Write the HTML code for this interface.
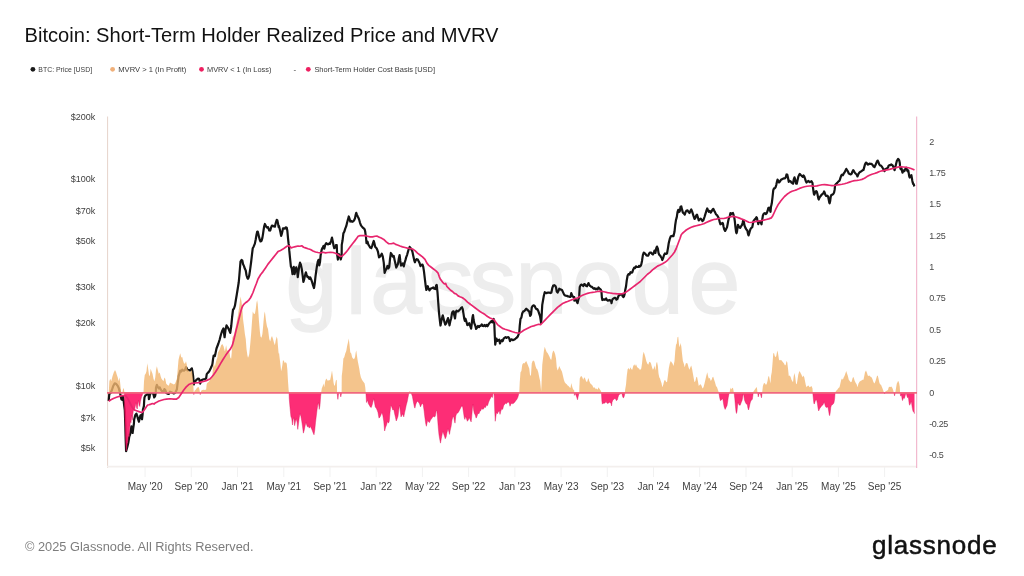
<!DOCTYPE html>
<html lang="en"><head><meta charset="utf-8"><title>Bitcoin: Short-Term Holder Realized Price and MVRV</title>
<style>html,body{margin:0;padding:0;background:#fff;overflow:hidden}svg{display:block}</style></head>
<body>
<svg width="1024" height="576" viewBox="0 0 1024 576">
<rect width="1024" height="576" fill="#fff"/>
<text x="285.5 345.8 370.2 427.5 469.5 515.5 572 631.8 688.5" y="312.5" font-family="'Liberation Sans',sans-serif" font-size="93" fill="#ededed" stroke="#ededed" stroke-width="1.4">glassnode</text>
<line x1="107.6" y1="116.5" x2="107.6" y2="468" stroke="#e6d3ca" stroke-width="1"/>
<line x1="107" y1="466.6" x2="917" y2="466.6" stroke="#f3efed" stroke-width="1.6"/>
<line x1="916.7" y1="116.5" x2="916.7" y2="468" stroke="#efaac4" stroke-width="1"/>
<line x1="145.1" y1="467" x2="145.1" y2="477" stroke="#f1f1f1" stroke-width="1"/>
<line x1="191.3" y1="467" x2="191.3" y2="477" stroke="#f1f1f1" stroke-width="1"/>
<line x1="237.5" y1="467" x2="237.5" y2="477" stroke="#f1f1f1" stroke-width="1"/>
<line x1="283.8" y1="467" x2="283.8" y2="477" stroke="#f1f1f1" stroke-width="1"/>
<line x1="330.0" y1="467" x2="330.0" y2="477" stroke="#f1f1f1" stroke-width="1"/>
<line x1="376.2" y1="467" x2="376.2" y2="477" stroke="#f1f1f1" stroke-width="1"/>
<line x1="422.4" y1="467" x2="422.4" y2="477" stroke="#f1f1f1" stroke-width="1"/>
<line x1="468.6" y1="467" x2="468.6" y2="477" stroke="#f1f1f1" stroke-width="1"/>
<line x1="514.9" y1="467" x2="514.9" y2="477" stroke="#f1f1f1" stroke-width="1"/>
<line x1="561.1" y1="467" x2="561.1" y2="477" stroke="#f1f1f1" stroke-width="1"/>
<line x1="607.3" y1="467" x2="607.3" y2="477" stroke="#f1f1f1" stroke-width="1"/>
<line x1="653.5" y1="467" x2="653.5" y2="477" stroke="#f1f1f1" stroke-width="1"/>
<line x1="699.7" y1="467" x2="699.7" y2="477" stroke="#f1f1f1" stroke-width="1"/>
<line x1="746.0" y1="467" x2="746.0" y2="477" stroke="#f1f1f1" stroke-width="1"/>
<line x1="792.2" y1="467" x2="792.2" y2="477" stroke="#f1f1f1" stroke-width="1"/>
<line x1="838.4" y1="467" x2="838.4" y2="477" stroke="#f1f1f1" stroke-width="1"/>
<line x1="884.6" y1="467" x2="884.6" y2="477" stroke="#f1f1f1" stroke-width="1"/>
<g font-family="'Liberation Sans',sans-serif" font-size="10" fill="#404040" text-anchor="middle">
<text x="145.1" y="489.6">May '20</text>
<text x="191.3" y="489.6">Sep '20</text>
<text x="237.5" y="489.6">Jan '21</text>
<text x="283.8" y="489.6">May '21</text>
<text x="330.0" y="489.6">Sep '21</text>
<text x="376.2" y="489.6">Jan '22</text>
<text x="422.4" y="489.6">May '22</text>
<text x="468.6" y="489.6">Sep '22</text>
<text x="514.9" y="489.6">Jan '23</text>
<text x="561.1" y="489.6">May '23</text>
<text x="607.3" y="489.6">Sep '23</text>
<text x="653.5" y="489.6">Jan '24</text>
<text x="699.7" y="489.6">May '24</text>
<text x="746.0" y="489.6">Sep '24</text>
<text x="792.2" y="489.6">Jan '25</text>
<text x="838.4" y="489.6">May '25</text>
<text x="884.6" y="489.6">Sep '25</text>
</g>
<g font-family="'Liberation Sans',sans-serif" font-size="9" fill="#404040" text-anchor="end">
<text x="95.3" y="119.5">$200k</text>
<text x="95.3" y="181.8">$100k</text>
<text x="95.3" y="213.8">$70k</text>
<text x="95.3" y="244.0">$50k</text>
<text x="95.3" y="289.9">$30k</text>
<text x="95.3" y="326.3">$20k</text>
<text x="95.3" y="388.6">$10k</text>
<text x="95.3" y="420.6">$7k</text>
<text x="95.3" y="450.8">$5k</text>
</g>
<g font-family="'Liberation Sans',sans-serif" font-size="9" fill="#484848" letter-spacing="-0.35">
<text x="929.2" y="144.6">2</text>
<text x="929.2" y="176.0">1.75</text>
<text x="929.2" y="207.3">1.5</text>
<text x="929.2" y="238.7">1.25</text>
<text x="929.2" y="270.1">1</text>
<text x="929.2" y="301.4">0.75</text>
<text x="929.2" y="332.8">0.5</text>
<text x="929.2" y="364.1">0.25</text>
<text x="929.2" y="395.5">0</text>
<text x="929.2" y="426.9">-0.25</text>
<text x="929.2" y="458.2">-0.5</text>
</g>
<clipPath id="up"><rect x="107" y="100" width="810" height="292.75"/></clipPath>
<clipPath id="dn"><rect x="107" y="392.75" width="810" height="100"/></clipPath>
<path d="M108.75,401.086 L108.8,399.4 L109.3,393.8 L110.6,393 L111.9,390 L113.1,386.3 L114.75,383.3 L116,383.75 L117.5,385.6 L118.75,388.1 L119.75,391.9 L120.4,394.5 L121.4,399.25 L122.3,399.9 L122.9,396.1 L123.6,400.5 L124.2,405.5 L124.8,410 L125.3,425 L125.7,440 L126.1,451.25 L127.3,447 L128.25,443 L129.2,437 L130.1,434.4 L130.75,430.6 L131.4,426.25 L132,428.75 L132.6,433 L133.25,428 L133.9,423.75 L134.2,419.25 L135.4,414.9 L136.4,413.6 L137.3,416.1 L137.9,418.6 L138.9,421.75 L139.5,419.25 L140.4,415.5 L141.4,414.9 L142,419.25 L142.6,414.25 L142.9,409.9 L143.25,408.6 L143.9,406.1 L144.2,400.5 L144.5,397.4 L145.4,395.5 L146.4,394.9 L147.6,393.9 L148.6,394.25 L148.9,399.25 L149.5,397.4 L150.1,393.6 L151.4,393 L153.25,393.6 L154.2,397.4 L155.1,396.1 L155.75,393 L156,387.562 L156.875,384.891 L157.75,386.685 L158.75,388.461 L159.75,387.315 L160.625,389.378 L161.5,390.694 L162.5,391.223 L163.5,391.76 L164.375,389.133 L165.25,389.794 L166.25,392.915 L167.5,393.614 L168.75,393.912 L170,391.694 L171.25,392.258 L172.5,392.825 L173.75,393.394 L175,392.975 L176,391.32 L176.875,389.269 L177.75,382.452 L178.5,376.83 L179.375,373.618 L180.25,370.589 L181.25,371.502 L182.25,369.653 L183.125,370.454 L184,370.643 L185,369.766 L186,367.083 L186.875,368.371 L187.5,370.399 L188.75,370.007 L190,370.555 L191,369.308 L191.875,368.36 L192.5,371.377 L193.125,376.144 L193.75,382.954 L193.8,384.481 L194.125,382.914 L194.5,381.544 L195.5,380.998 L196.75,379.561 L198,378.568 L199,378.857 L199.75,381.292 L200,382.121 L200.25,383.593 L200.625,381.971 L201.125,380.521 L202.375,379.782 L203.625,379.247 L204.875,379.055 L206.125,378.251 L206.75,374.156 L207.75,372.886 L208.625,372.09 L209.5,370.886 L210.5,368.846 L211.5,366.565 L212.375,364.333 L213,359.343 L213.625,355.617 L214.25,355.822 L214.875,356.04 L215.5,353.316 L216.5,348.5 L218.4,343.5 L219.6,339.75 L220.9,334.75 L222.1,331 L223.4,328.5 L224.6,337.25 L225.5,329.75 L226.5,325.4 L227.75,327.25 L229,329.75 L230.25,332.9 L231.25,326 L232.1,317.25 L233,309.75 L234,308.5 L235,305.4 L235.9,299.75 L236.75,294.75 L237.75,288.5 L238.75,282.25 L239.4,275 L240.5,261.594 L241.5,259.989 L242.375,260.629 L243,264.007 L244,266.116 L244.875,268.849 L245.75,270.548 L246.5,275.213 L247.375,278.019 L248,278.775 L248.75,276.961 L249.25,275.416 L250.25,268.625 L251.125,261.99 L252,254.292 L252.75,248.187 L253.625,246.706 L254.875,243.63 L255.75,239.232 L256.5,234.713 L257.125,231.885 L257.75,231.652 L258.375,234.045 L259,236.892 L259.875,240.092 L260.5,241.468 L261.5,240.828 L262.375,237.878 L263,234.093 L263.625,229.698 L264.25,225.98 L264.875,223.962 L265.5,225.237 L266.125,226.542 L267,227.525 L268,227.184 L268.625,228.815 L269.25,230.513 L270.25,230.535 L271.125,227.563 L272,225.55 L273,225.863 L274,226.503 L274.875,226.689 L275.75,223.027 L276.75,219.893 L277.375,220.35 L278,223.404 L278.625,227.116 L279,226.119 L279.875,229.86 L280.5,232.446 L281.125,235.863 L281.75,234.022 L282.375,231.471 L283,228.26 L284,228.233 L284.875,228.665 L285.75,227.317 L286.75,227.743 L287.375,231.043 L288,238.039 L288.625,243.886 L289,245.605 L289.05,245.777 L289.25,250.153 L290,257.86 L290.875,266.276 L291.75,268.546 L292.5,274.122 L293,269.255 L293.75,266.801 L294.625,274.133 L295.5,269.756 L296.25,267.288 L297.125,270.532 L297.75,277.081 L298.5,271.57 L299.25,265.911 L300,262.684 L300.875,264.624 L301.75,268.906 L302.5,274.272 L303.375,281.965 L304.25,279.128 L305,275.643 L305.875,272.35 L306.75,275.026 L307.5,277.107 L308.375,276.777 L309.25,278.891 L310.25,277.339 L311.25,279.716 L312.125,282.131 L313,285.24 L314,288.031 L314.75,283.356 L315.5,276.322 L316.25,270.788 L317,265.591 L317.75,261.682 L318.5,259.849 L319.25,265.474 L320,262.052 L320.625,255.41 L321.125,252.738 L321.75,249.582 L322.75,247.606 L323.5,245.988 L324.25,248.72 L325.25,244.791 L326.25,243.113 L327.125,243.781 L328,244.456 L329,243.541 L330,243.847 L331,241.04 L332,237.654 L332.75,241.215 L333.5,245.428 L334.25,248.166 L335,247.546 L335.875,245.022 L336.75,245.141 L337.125,254.225 L337.875,259.55 L338.625,255.188 L339,254.205 L339.625,255.887 L340.125,256.238 L340.75,259.438 L341.625,256.204 L341.675,251.482 L341.75,244.911 L342.5,240.778 L343.375,233.364 L344.25,231.812 L345.25,228.662 L346.25,226.2 L347.125,222.448 L348,219.407 L348.75,216.462 L349.5,218.593 L350.25,221.539 L351.25,220.918 L352.125,221.85 L353,221.433 L354,220.525 L355,218.212 L355.75,214.477 L356.25,212.81 L357,214.863 L357.75,216.52 L358.5,218.012 L359.25,219.979 L360,222.774 L360.875,225.133 L361.75,226.336 L362.75,227.556 L363.75,228.378 L364.625,229.208 L365.25,231.81 L365.75,235.795 L365.875,235.827 L366.5,243.259 L367.5,241.599 L368.375,244.723 L369.25,245.937 L370.25,247.633 L371.25,248.139 L372.125,246.132 L373,243.074 L373.75,240.978 L374.5,243.649 L375.25,246.95 L376.25,247.833 L377.125,249.401 L378,251.927 L379,257.325 L380,256.69 L380.875,255.462 L381.75,253.752 L382.75,256.422 L383.75,262.556 L384.625,272.956 L385.5,270.294 L386.5,268.786 L387.5,265.981 L388.375,268.384 L389.25,266.906 L390,259.142 L390.875,252.982 L391.75,254.353 L392.75,256.651 L393.75,255.874 L394.625,260.176 L395.5,264.076 L396.25,267.53 L397.125,265.75 L398,263.838 L398.75,258.791 L399.625,255.082 L400.25,260.425 L401,265.55 L401.75,264.718 L402.75,263.421 L403.75,266.39 L404.625,262.802 L405.5,259.879 L406.25,257.032 L407.125,254.795 L408,251.648 L408.75,249.019 L409.25,248.38 L409.625,246.931 L410.5,247.975 L411.25,249.019 L412.375,251.517 L413.25,255.784 L414.25,260.35 L414.875,262.268 L415.75,260.087 L416.75,259.135 L417.75,259.594 L418.625,261.224 L419.5,262.865 L420.5,266.113 L421.5,264.877 L422.5,264.656 L423.25,266.882 L424,271.691 L424.875,279.021 L425.75,286.364 L426.375,289.992 L427,288.135 L427.75,286.162 L428.625,288.982 L429.5,290.292 L430.5,288.735 L431.5,288.358 L432.375,287.901 L433.25,287.458 L434.25,288.79 L435.25,289.038 L436.125,285.435 L436.75,285.032 L437.5,292.297 L438.25,302.794 L439,312.8 L439.875,320.56 L440.5,325.527 L441.25,321.5 L442,318.343 L442.75,315.289 L443.625,318.785 L444.5,322.211 L445.25,324.62 L446.125,323.601 L447,320.843 L448,318.021 L448.75,321.339 L449.5,325.378 L450.25,321.556 L451.125,318.51 L452,313.176 L452.75,311.496 L453.625,311.263 L454.25,315.255 L455,318.506 L455.75,312.475 L456.5,310.717 L457.375,311.08 L458.25,311.359 L459.25,310.226 L460.25,309.109 L461.125,307.933 L462,307.28 L462.75,309.174 L463.5,313.882 L464.25,318.791 L464.875,320.942 L465.5,318.738 L466.5,321.968 L467.375,325.131 L468.25,324.675 L469.25,323.176 L470.25,326.195 L471.125,328.592 L471.75,323.968 L472.375,318.064 L473,315.007 L473.625,320.024 L474.25,323.12 L475.25,325.477 L476.125,328.888 L477,327.868 L478,325.905 L479,327.201 L479.875,325.74 L480.75,325.792 L481.75,324.368 L482.75,326.024 L483.625,326.034 L484.5,325.033 L485.5,326.219 L486.5,324.972 L487.5,326.23 L488.5,324.369 L489.5,323.049 L490.5,322.135 L491.5,321.142 L492.375,322.418 L493,319.982 L493.625,318.968 L494.25,322.463 L494.75,334.948 L495.25,344.644 L495.875,341.099 L496.5,338.676 L497.375,340.896 L498.25,340.032 L499.25,339.742 L500,343.5 L500.75,341.405 L501.75,340.089 L502.625,341.216 L503.625,338.512 L504.5,337.817 L505.5,337.156 L506.5,337.945 L507.375,337.232 L508.375,337.1 L509.25,338.386 L510,341.13 L510.75,339.892 L511.75,339.251 L512.75,340.07 L513.75,339.881 L514.875,339.248 L515.75,338.475 L516.75,337.725 L517.75,336.481 L518.5,334.679 L519,333.079 L519.25,333.092 L519.75,325.689 L520.5,318.907 L521.375,317.643 L522.25,313.259 L523.25,311.428 L524.25,311.17 L525.25,309.947 L526.25,308.73 L527.25,309.67 L528.25,310.634 L529.25,311.622 L530.125,315.802 L531,314.579 L531.75,307.55 L532.625,305.9 L533.5,305.334 L534.5,305.718 L535.5,307.904 L536.375,309.085 L537.25,309.198 L538.25,310.801 L539.25,313.878 L540.125,316.466 L540.75,320.599 L541.125,323.021 L541.5,318.169 L541.875,311.312 L542.25,304.893 L543,300.533 L543.875,295.482 L544.75,292.234 L545.75,292.84 L546.75,293.144 L547.625,292.573 L548.5,292.687 L549.5,292.684 L550.5,293.065 L551.375,292.544 L552.25,288.193 L553.25,285.504 L554.25,285.176 L555.125,285.66 L556,287.213 L556.75,291.525 L557.625,292.559 L558.5,290.762 L559.25,288.704 L560.125,289.153 L561,289.615 L562,289.997 L563,292.1 L563.875,294.081 L564.75,295.298 L565.75,295.738 L566.75,295.796 L567.625,296.317 L568.5,296.391 L569.5,296.845 L570.5,296.875 L571.25,293.192 L572,294.991 L572.75,296.417 L573.5,297.017 L574.25,297.185 L574.3,298.852 L574.35,300.734 L574.875,299.184 L575.812,299.849 L576.75,301.462 L577.5,303.159 L578.125,300.444 L578.75,298.24 L579.25,296.95 L579.3,293.927 L579.75,286.983 L580.5,285.386 L581.375,284.552 L582.25,284.908 L583.25,286.091 L584.25,284.083 L585.125,284.541 L586,285.866 L587,286.348 L587.75,284.476 L588.5,283.072 L589.25,284.901 L590.125,285.925 L591,286.636 L592,286.916 L593,288.037 L593.875,288.755 L594.75,288.185 L595.75,289.291 L596.75,288.657 L597.625,289.357 L598.5,287.485 L599.25,288.227 L600.125,288.997 L601,290.015 L601.438,291.33 L601.875,297.512 L602.375,300.02 L603,299.649 L603.938,299.349 L604.875,299.78 L605.5,299.195 L606.125,298.382 L606.75,299.981 L607.688,300.679 L608.625,300.341 L609.562,300.005 L610.5,300.641 L611.125,301.229 L611.562,303.179 L612.062,300.405 L612.688,299.049 L613.312,298.624 L613.938,298.201 L614.875,297.806 L615.812,298.383 L616.438,299.645 L617.375,299.044 L618,297.182 L618.625,295.8 L619.562,294.89 L620.5,294.604 L621.438,294.041 L622.062,294.643 L622.688,296.355 L623.312,297.071 L623.938,296.393 L624.562,294.343 L624.875,292.793 L625.125,290.544 L626,286.536 L626.75,280.335 L627.625,275.505 L628.5,274.108 L629.5,274.495 L630.5,272.255 L631.375,272.73 L632.25,272.46 L633.25,269.464 L634.25,267.604 L635.125,268.039 L636,266.274 L637,266.984 L638,266.978 L639,266.612 L639.05,265.828 L639.1,266.538 L639.125,266.895 L640.375,266.25 L641.25,264.622 L642,260.92 L642.875,255.102 L643.75,252.526 L644.5,253.135 L645.375,253.987 L646.25,255.23 L647.25,255.67 L648.25,255.594 L649.125,253.495 L650,252.488 L651,252.57 L652,253.775 L652.875,254.49 L653.75,253.072 L654.5,250.646 L655.375,252.969 L656.25,248.22 L657,246.568 L657.875,248.569 L658.5,252.834 L659.25,254.863 L660,255.333 L660.75,256.596 L661.625,257.828 L662.25,260.065 L663.25,257.796 L664.125,254.781 L665,253.441 L666,253.866 L667,253.478 L667.875,248.62 L668.75,243.022 L669.75,238.95 L670.75,236.405 L671.625,236.16 L672.5,235.92 L673.5,236.068 L674.5,231.777 L675.25,224.717 L676,219.899 L676.75,217.396 L677.5,212.211 L678.25,209.885 L679,212.024 L679.75,211.355 L680.5,206.927 L681.25,206.292 L682,209.393 L682.875,212.654 L683.75,213.335 L684.75,214.672 L685.75,211.603 L686.625,210.583 L687.5,210.42 L688.5,212.025 L689.5,213 L690.375,211.062 L691.25,209.516 L692,211.117 L692.875,213.872 L693.75,216.733 L694.5,218.983 L695.375,217.933 L696.25,215.283 L697,214.691 L697.875,217.283 L698.75,220.391 L699.75,219.306 L700.75,218.646 L701.625,219.679 L702.5,221.132 L703.5,219.97 L704.5,216.983 L705.375,214.078 L706.25,211.24 L707.25,208.461 L708,210.47 L708.75,211.733 L709.75,210.932 L710.75,212.556 L711.625,211.406 L712.5,209.483 L713.25,208.816 L714.125,210.581 L715,212.078 L716,214.431 L717,215.065 L717.875,216.587 L718.875,218.5 L719.812,222.435 L720.438,224.325 L721.375,223.849 L722.312,222.903 L722.938,223.375 L723.562,226.745 L724.188,229.128 L725.125,230.944 L726.062,229.184 L727,227.36 L727.625,224.19 L728.25,220.648 L728.875,218.151 L729.5,216.88 L729.812,215.762 L730.438,213.047 L731.062,214.245 L732,213.287 L732.938,212.997 L733.562,214.906 L733.875,216.43 L734.188,216.999 L734.812,221.058 L735.438,227.035 L736.062,231.817 L736.5,233.282 L737,231.605 L737.5,227.68 L737.938,224.877 L738.562,226.078 L739.188,227.307 L740.125,227.931 L740.75,226.945 L741.375,225.728 L742,224.98 L742.625,222.836 L743.25,220.074 L743.875,221.896 L744.5,225.474 L745.438,227.863 L746.375,229.554 L747.312,230.269 L747.938,233.591 L748.562,235.447 L749.188,233.533 L749.812,231.094 L750.438,229.204 L751.375,227.819 L752.312,227.12 L752.938,223.721 L753.25,222.02 L753.562,220.877 L754.5,219.802 L755.438,218.742 L756.375,217.268 L757,218.027 L757.5,221.2 L757.75,221.429 L758.25,224.084 L758.875,222.151 L759.5,221.374 L760.438,221.449 L761.062,223.172 L761.5,224.251 L761.875,221.646 L762.125,220.425 L762.5,217.965 L762.875,215.566 L763.75,213.708 L764.75,213.052 L765.75,214.066 L766.625,213.436 L767.5,211.156 L768.25,208.156 L769,207.54 L769.75,209.641 L770.5,211.808 L771,206.74 L771.75,203.592 L772.5,197.296 L773.25,190.264 L774,188.291 L774.75,188.35 L775.5,187.345 L776.25,185.05 L777,181.597 L777.5,179.654 L778.25,180.827 L779,182.419 L780,181.402 L781,179.708 L782,179.176 L783,178.684 L784,178.249 L785,178.326 L785.75,177.299 L786.5,174.47 L787.25,174.577 L788,177.742 L788.75,181.85 L789.75,180.811 L790.75,181.458 L791.5,182.661 L792.25,183.131 L793,183.728 L793.75,179.465 L794.5,177.287 L795.25,179.763 L796,183.568 L796.75,183.716 L797.5,180.501 L798.25,176.954 L799,175.041 L799.75,173.945 L800.5,174.827 L801.25,175.333 L802,176.24 L802.75,176.808 L803.5,175.396 L804.25,176.358 L805,178.606 L805.75,180.946 L806.5,182.495 L807.5,181.491 L808.5,180.967 L809.5,182.145 L810.5,181.677 L811.5,181.211 L812.5,182.977 L812.75,186.005 L813.375,190.496 L813.875,193.919 L814.312,194.715 L814.938,192.974 L815.562,191.45 L816.188,191.125 L816.812,191.751 L817.438,194.032 L818.062,197.371 L818.688,199.534 L819.312,198.072 L819.938,196.91 L820.875,195.708 L821.812,194.517 L822.75,193.937 L823.5,192.905 L824.125,191.408 L824.75,192.875 L825.375,194.935 L826.188,196.041 L827.125,195.65 L828.062,196.288 L828.688,199.472 L829.312,202.766 L829.625,203.356 L830.125,201.262 L830.75,196.664 L831.5,194.762 L832.438,194.567 L833.375,193.79 L834,192.789 L834.625,189.878 L835.062,185.387 L835.112,185.377 L836,183.955 L837.25,182.837 L838.5,181.335 L839.5,180.745 L840.375,178.086 L841.25,175.496 L842,174.583 L842.875,175.216 L843.75,173.433 L844.5,172.49 L845.375,170.662 L846.25,168.86 L847,170.174 L847.875,171.425 L848.75,173.511 L849.75,173.971 L850.75,174.453 L851.625,173.744 L852.5,171.473 L853.25,170.111 L854,171.143 L854.75,172.626 L855.75,173.742 L856.625,174.471 L857.5,176.465 L858.5,173.768 L859.5,172.366 L860.5,171.716 L861.5,171.067 L862.5,170.321 L863.5,169.881 L864.25,167.15 L865,164.361 L866,162.534 L867,163.387 L867.75,164.526 L868.5,164.5 L869.5,163.546 L870.5,163.936 L871.5,163.933 L872.5,164.796 L873.5,166.558 L874.5,167.108 L875.5,165.096 L876.25,163.203 L877,161.34 L877.75,160.616 L878.5,162.273 L879.25,164.388 L880,165.386 L881,165.526 L882,166.945 L883,168.477 L883.625,169.762 L884.125,170.375 L884.562,171.142 L885,170.2 L885.5,168.944 L886.75,168.473 L888,167.564 L888.625,165.706 L889.562,165.087 L890.5,165.076 L891.25,164.469 L892.062,164.913 L892.688,165.601 L893.312,166.735 L893.75,168.21 L894.125,168.734 L894.562,170.206 L895,168.509 L895.312,167.805 L895.5,166.604 L896.125,163.841 L896.75,161.151 L897.375,160.167 L898.125,158.952 L898.75,159.617 L899.25,160.573 L899.75,162.646 L900,165.669 L900.188,166.811 L900.237,166.807 L900.375,168.605 L900.875,169.256 L901.5,168.153 L902,170.972 L902.5,172.677 L903.062,171.548 L903.688,170.44 L904.312,171.203 L904.938,169.87 L905.562,168.332 L906.188,167.736 L906.625,168.728 L907.125,170.202 L907.625,171.229 L908.25,170.427 L908.688,172.87 L909.125,175.889 L909.625,177.518 L910.25,176.717 L910.875,175.441 L911.375,175.146 L911.812,177.76 L912.25,180.442 L912.75,182.699 L913.25,184.209 L913.75,184.171 L914.25,186.014 L914.5,186.407" fill="none" stroke="#141414" stroke-width="2.2" stroke-linejoin="round"/>
<path d="M108.75,392.75 L108.75,392.5 L109.375,381.25 L110.25,378.75 L111.25,381.25 L112.5,376.25 L113.75,372.5 L115,370 L116,371.875 L116.875,375 L117.75,377.5 L118.5,381.25 L119.375,377.5 L120,381.25 L120.625,387.5 L121.25,392.5 L122.25,393.125 L123.125,388.75 L123.75,388.125 L124.375,392.5 L124.425,399 L124.475,406.5 L125,421.5 L125.625,440.25 L126.25,450.875 L127,445.25 L127.75,441.5 L128.5,434 L129.125,436.5 L129.75,427.75 L130.375,421.5 L131,422.75 L131.625,415.25 L132.25,420.25 L132.875,414 L133.5,409 L134.375,410.875 L135.25,406.5 L136,402.75 L136.625,407.75 L137.25,409 L137.875,404 L138.5,400.25 L139.125,405.25 L139.75,406.5 L140.375,401.5 L141,399 L141.625,396.5 L142.25,395.25 L142.75,393.375 L143.5,392.5 L144,381.25 L144.75,375 L145.625,373.75 L146.5,371.25 L147.25,363.125 L148.125,368.75 L149,375 L149.75,376.25 L150.625,368.75 L151.5,371.25 L152.5,373.75 L153.5,378.75 L154.375,381.25 L155.25,377.5 L156,370 L156.875,366.25 L157.75,370 L158.75,373.75 L159.75,372.5 L160.625,376.25 L161.5,378.75 L162.5,380 L163.5,381.25 L164.375,377.5 L165.25,378.75 L166.25,383.75 L167.5,385 L168.75,385.625 L170,382.5 L171.25,383.125 L172.5,383.75 L173.75,384.375 L175,383.75 L176,381.25 L176.875,378.75 L177.75,368.75 L178.5,360 L179.375,356.25 L180.25,353.125 L181.25,357.5 L182.25,356.875 L183.125,360.625 L184,363.125 L185,363.75 L186,361.25 L186.875,365 L187.5,369.375 L188.75,370.625 L190,372.5 L191,371.25 L191.875,370 L192.5,375 L193.125,382.5 L193.75,392.5 L193.8,394.625 L194.125,392.5 L194.5,390.625 L195.5,390 L196.75,388.125 L198,386.875 L199,387.5 L199.75,391.25 L200,392.5 L200.25,394.625 L200.625,392.5 L201.125,390.625 L202.375,390 L203.625,389.75 L204.875,390 L206.125,389.375 L206.75,383.75 L207.75,382.5 L208.625,381.875 L209.5,380.625 L210.5,378.75 L211.5,376.875 L212.375,375 L213,368.125 L213.625,363.125 L214.25,365 L214.875,366.875 L215.5,363.75 L216.5,360 L217.375,357.5 L218,352.5 L219,350.625 L219.875,349 L221.125,345.25 L222.375,344 L223.625,346.5 L224.875,351.5 L226.125,345.25 L227,350.25 L229.25,351.25 L230.25,357.5 L231.125,358.75 L231.75,352.5 L232.375,337.75 L233,336.5 L234.25,334 L235.5,327.75 L236.75,321.5 L238,315.25 L239.25,306.5 L240.5,296.5 L241.5,301.5 L242.375,309 L243,319 L244,326.5 L244.875,334 L245.75,339 L246.5,349 L247.375,355.25 L248,357.75 L248.75,355.875 L249.25,354 L250.25,344 L251.125,334 L252,321.5 L252.75,311.5 L253.625,313.375 L254.875,314 L255.75,309 L256.5,302.75 L257.125,300.25 L257.75,304 L258.375,312.75 L259,321.5 L259.875,331.5 L260.5,336.5 L261.5,337.75 L262.375,334 L263,327.75 L263.625,320.25 L264.25,314 L264.875,311.5 L265.5,316.5 L266.125,321.5 L267,326.5 L268,329 L268.625,334 L269.25,339 L270.25,341.5 L271.125,337.75 L272,335.875 L273,339 L274,342.75 L274.875,345.25 L275.75,340.25 L276.75,336.5 L277.375,339 L278,346.5 L278.625,354 L279,352.5 L279.875,360 L280.5,365 L281.125,371.25 L281.75,368.75 L282.375,365 L283,360 L284,361.25 L284.875,363.125 L285.75,361.875 L286.75,363.75 L287.375,370 L288,381.25 L288.625,390 L289,392.5 L289.05,392.75 L289.25,398.75 L290,407.5 L290.875,416.25 L291.75,418.75 L292.5,425 L293,420 L293.75,417.5 L294.625,425.625 L295.5,421.25 L296.25,418.75 L297.125,422.5 L297.75,429.375 L298.5,423.75 L299.25,417.5 L300,413.75 L300.875,416.25 L301.75,421.25 L302.5,426.25 L303.375,433.125 L304.25,430 L305,426.25 L305.875,422.5 L306.75,425 L307.5,426.875 L308.375,426.25 L309.25,428.125 L310.25,426.25 L311.25,428.125 L312.125,430 L313,432.5 L314,434.75 L314.75,430 L315.5,422.5 L316.25,416.25 L317,410 L317.75,405 L318.5,402.5 L319.25,409.375 L320,405 L320.625,396.25 L321.125,392.75 L321.75,388.5 L322.75,386 L323.5,383.5 L324.25,387.25 L325.25,381 L326.25,378.5 L327.125,379.75 L328,381 L329,379.75 L330,380.375 L331,376 L332,370.375 L332.75,376 L333.5,382.25 L334.25,386 L335,384.75 L335.875,380.375 L336.75,379.75 L337.125,392.75 L337.875,399.375 L338.625,392.75 L339,391 L339.625,392.75 L340.125,392.75 L340.75,396.875 L341.625,392.75 L341.675,386 L341.75,376 L342.5,369.75 L343.375,358.5 L344.25,357.25 L345.25,353.5 L346.25,351 L347.125,346 L348,342.25 L348.75,338.5 L349.5,344.75 L350.25,352.25 L351.25,353.5 L352.125,357.25 L353,358.5 L354,359.125 L355,357.25 L355.75,352.25 L356.25,350.375 L357,356 L357.75,361 L358.5,364.75 L359.25,368.5 L360,373.5 L360.875,377.25 L361.75,379.125 L362.75,381 L363.75,382.25 L364.625,383.5 L365.25,387.25 L365.75,392.75 L365.875,392.75 L366.5,402.5 L367.5,400 L368.375,403.75 L369.25,405 L370.25,406.875 L371.25,407.5 L372.125,405 L373,401.25 L373.75,398.75 L374.5,402.5 L375.25,406.875 L376.25,408.125 L377.125,410 L378,412.5 L379,418.125 L380,416.875 L380.875,415 L381.75,412.5 L382.75,415 L383.75,421.25 L384.625,431 L385.5,427.5 L386.5,425 L387.5,421.25 L388.375,423.125 L389.25,421.25 L390,412.5 L390.875,405 L391.75,406.875 L392.75,410 L393.75,409.375 L394.625,413.75 L395.5,417.5 L396.25,421 L397.125,418.75 L398,416.25 L398.75,410 L399.625,405 L400.25,411.25 L401,416.875 L401.75,415.625 L402.75,413.75 L403.75,416.875 L404.625,412.5 L405.5,408.75 L406.25,405 L407.125,401.875 L408,397.5 L408.75,393.75 L409.25,392.75 L409.625,390.625 L410.5,391.875 L411.25,393.125 L412.375,396.25 L413.25,401.25 L414.25,406.25 L414.875,408.125 L415.75,404.375 L416.75,401.875 L417.75,401.25 L418.625,402.5 L419.5,403.75 L420.5,406.875 L421.5,404.375 L422.5,403.125 L423.25,405 L424,410 L424.875,417.5 L425.75,423.75 L426.375,426.25 L427,423.125 L427.75,420 L428.625,421.875 L429.5,422.5 L430.5,420 L431.5,418.75 L432.375,417.5 L433.25,416.25 L434.25,416.875 L435.25,416.25 L436.125,411.25 L436.75,410 L437.5,417.5 L438.25,427.5 L439,435 L439.875,440 L440.5,443.125 L441.25,438.75 L442,435 L442.75,431.25 L443.625,433.75 L444.5,436.25 L445.25,438.75 L446.125,436.875 L447,432.5 L448,428.75 L448.75,431.25 L449.5,434.375 L450.25,430 L451.125,426.25 L452,420 L452.75,417.5 L453.625,416.25 L454.25,420 L455,423.125 L455.75,416.25 L456.5,413.75 L457.375,413.125 L458.25,412.5 L459.25,410.625 L460.25,408.75 L461.125,406.875 L462,405.625 L462.75,407.5 L463.5,412.5 L464.25,417.5 L464.875,419.375 L465.5,416.25 L466.5,418.75 L467.375,421.25 L468.25,420 L469.25,417.5 L470.25,420 L471.125,421.875 L471.75,416.25 L472.375,408.75 L473,404.375 L473.625,410 L474.25,413.125 L475.25,415 L476.125,418.125 L477,416.25 L478,413.125 L479,413.75 L479.875,411.25 L480.75,410.625 L481.75,408.125 L482.75,409.375 L483.625,408.75 L484.5,406.875 L485.5,407.5 L486.5,405 L487.5,405.625 L488.5,402.5 L489.5,400 L490.5,398.125 L491.5,396.25 L492.375,397.5 L493,393.75 L493.625,391.875 L494.25,396.25 L494.75,411.25 L495.25,421.25 L495.875,416.25 L496.5,412.5 L497.375,413.75 L498.25,411.875 L499.25,410.625 L500,414.375 L500.75,411.25 L501.75,408.75 L502.625,409.375 L503.625,405.625 L504.5,404.375 L505.5,403.125 L506.5,403.75 L507.375,402.5 L508.375,401.875 L509.25,403.125 L510,406.25 L510.75,404.375 L511.75,403.125 L512.75,403.75 L513.75,403.125 L514.875,401.875 L515.75,400.625 L516.75,399.375 L517.75,397.5 L518.5,395 L519,392.75 L519.25,392.75 L519.75,382.25 L520.5,372.25 L521.375,371 L522.25,364.75 L523.25,362.875 L524.25,363.5 L525.25,362.25 L526.25,361 L527.25,363.5 L528.25,366 L529.25,368.5 L530.125,376 L531,374.75 L531.75,363.5 L532.625,361 L533.5,360.375 L534.5,361.625 L535.5,366 L536.375,368.5 L537.25,369.125 L538.25,372.25 L539.25,377.25 L540.125,381 L540.75,387.25 L541.125,391.25 L541.5,384.75 L541.875,374.75 L542.25,364.75 L543,358.5 L543.875,351 L544.75,346.625 L545.75,349.75 L546.75,352.25 L547.625,352.875 L548.5,354.75 L549.5,356.625 L550.5,359.125 L551.375,359.75 L552.25,353.5 L553.25,350.375 L554.25,351.625 L555.125,354.125 L556,358.5 L556.75,367.25 L557.625,370.375 L558.5,368.5 L559.25,366 L560.125,367.875 L561,369.75 L562,371.625 L563,376 L563.875,379.75 L564.75,382.25 L565.75,383.5 L566.75,384.125 L567.625,385.375 L568.5,386 L569.5,387.25 L570.5,387.875 L571.25,382.875 L572,386 L572.75,388.5 L573.5,389.75 L574.25,390.375 L574.3,392.75 L574.35,395.375 L574.875,393.5 L575.812,394.75 L576.75,397.25 L577.5,399.75 L578.125,396.625 L578.75,394.125 L579.25,392.75 L579.3,388.5 L579.75,378.5 L580.5,376.625 L581.375,376 L582.25,377.25 L583.25,379.75 L584.25,377.25 L585.125,378.5 L586,381 L587,382.25 L587.75,379.75 L588.5,377.875 L589.25,381 L590.125,382.875 L591,384.125 L592,384.75 L593,386.625 L593.875,387.875 L594.75,387.25 L595.75,389.125 L596.75,388.5 L597.625,389.75 L598.5,387.25 L599.25,388.5 L600.125,389.75 L601,391 L601.438,392.75 L601.875,401 L602.375,404.125 L603,403.5 L603.938,402.875 L604.875,403.188 L605.5,402.25 L606.125,401 L606.75,402.875 L607.688,403.5 L608.625,402.875 L609.562,402.25 L610.5,402.875 L611.125,403.5 L611.562,405.875 L612.062,402.25 L612.688,400.375 L613.312,399.75 L613.938,399.125 L614.875,398.5 L615.812,399.125 L616.438,400.688 L617.375,399.75 L618,397.25 L618.625,395.375 L619.562,394.125 L620.5,393.812 L621.438,393.188 L622.062,394.125 L622.688,396.625 L623.312,397.875 L623.938,397.25 L624.562,394.75 L624.875,392.75 L625.125,389.75 L626,384.75 L626.75,376 L627.625,369.125 L628.5,367.875 L629.5,369.75 L630.5,367.25 L631.375,369.125 L632.25,369.75 L633.25,366 L634.25,364.125 L635.125,366 L636,364.125 L637,366.625 L638,367.875 L639,368.5 L639.05,367.25 L639.1,368.5 L639.125,369.125 L640.375,369.75 L641.25,368.5 L642,363.5 L642.875,354.75 L643.75,351.625 L644.5,354.125 L645.375,357.25 L646.25,361 L647.25,363.5 L648.25,364.75 L649.125,362.25 L650,361.625 L651,363.5 L652,367.25 L652.875,369.75 L653.75,368.5 L654.5,365.375 L655.375,370.375 L656.25,363.5 L657,361.625 L657.875,366 L658.5,373.5 L659.25,377.25 L660,378.5 L660.75,381 L661.625,383.5 L662.25,387.25 L663.25,384.75 L664.125,381 L665,379.75 L666,381.625 L667,382.25 L667.875,376 L668.75,368.5 L669.75,363.5 L670.75,361 L671.625,362.25 L672.5,363.5 L673.5,366 L674.5,361 L675.25,351 L676,344.75 L676.75,343.5 L677.5,337.25 L678.25,336.625 L679,344.75 L679.75,347.25 L680.5,342.875 L681.25,346 L682,353.5 L682.875,361 L683.75,363.5 L684.75,367.25 L685.75,363.5 L686.625,362.875 L687.5,363.5 L688.5,367.25 L689.5,369.75 L690.375,367.25 L691.25,365.375 L692,368.5 L692.875,373.5 L693.75,378.5 L694.5,382.25 L695.375,381 L696.25,377.25 L697,376.625 L697.875,381 L698.75,386 L699.75,384.75 L700.75,384.125 L701.625,386 L702.5,388.5 L703.5,387.25 L704.5,383.5 L705.375,379.75 L706.25,376 L707.25,372.25 L708,376 L708.75,378.5 L709.75,377.875 L710.75,381 L711.625,379.75 L712.5,377.25 L713.25,376.625 L714.125,379.75 L715,382.25 L716,386 L717,387.25 L717.875,389.75 L718.875,392.75 L719.812,398.125 L720.438,400.625 L721.375,400 L722.312,398.75 L722.938,399.375 L723.562,403.75 L724.188,406.875 L725.125,409.375 L726.062,407.5 L727,405.625 L727.625,401.875 L728.25,397.5 L728.875,394.375 L729.5,392.75 L729.812,391.25 L730.438,387.5 L731.062,389.375 L732,388.125 L732.938,387.812 L733.562,390.625 L733.875,392.75 L734.188,393.438 L734.812,398.75 L735.438,406.25 L736.062,411.875 L736.5,413.438 L737,411.25 L737.5,406.25 L737.938,402.5 L738.562,403.75 L739.188,405 L740.125,405.312 L740.75,403.75 L741.375,401.875 L742,400.625 L742.625,397.5 L743.25,393.438 L743.875,395.625 L744.5,400 L745.438,402.5 L746.375,404.062 L747.312,404.375 L747.938,408.125 L748.562,410 L749.188,407.5 L749.812,404.375 L750.438,401.875 L751.375,400 L752.312,399.375 L752.938,395 L753.25,392.75 L753.562,391.25 L754.5,390 L755.438,388.75 L756.375,386.875 L757,388.125 L757.5,392.75 L757.75,393.125 L758.25,396.875 L758.875,394.375 L759.5,393.438 L760.438,393.75 L761.062,396.25 L761.5,397.812 L761.875,394.375 L762.125,392.75 L762.5,389.375 L762.875,386 L763.75,383.5 L764.75,382.875 L765.75,384.75 L766.625,384.125 L767.5,381 L768.25,376.625 L769,376 L769.75,379.75 L770.5,383.5 L771,376 L771.75,372.25 L772.5,363.5 L773.25,353.5 L774,352.875 L774.75,356 L775.5,357.25 L776.25,356 L777,352.25 L777.5,350.375 L778.25,354.75 L779,359.75 L780,360.375 L781,359.75 L782,361 L783,362.25 L784,363.5 L785,365.375 L785.75,364.75 L786.5,361 L787.25,362.25 L788,368.5 L788.75,376 L789.75,375.375 L790.75,377.25 L791.5,379.75 L792.25,381 L793,382.25 L793.75,376 L794.5,372.875 L795.25,377.25 L796,383.5 L796.75,384.125 L797.5,379.75 L798.25,374.75 L799,372.25 L799.75,371 L800.5,372.875 L801.25,374.125 L802,376 L802.75,377.25 L803.5,375.375 L804.25,377.25 L805,381 L805.75,384.75 L806.5,387.25 L807.5,386 L808.5,385.375 L809.5,387.25 L810.5,386.625 L811.5,386 L812.5,388.5 L812.75,392.75 L813.375,398.75 L813.875,403.125 L814.312,404.062 L814.938,401.875 L815.562,400 L816.188,399.688 L816.812,400.625 L817.438,403.75 L818.062,408.125 L818.688,410.938 L819.312,409.375 L819.938,408.125 L820.875,406.875 L821.812,405.625 L822.75,405 L823.5,403.75 L824.125,401.875 L824.75,403.75 L825.375,406.25 L826.188,407.5 L827.125,406.875 L828.062,407.5 L828.688,411.25 L829.312,415 L829.625,415.625 L830.125,413.125 L830.75,407.5 L831.5,405 L832.438,404.688 L833.375,403.75 L834,402.5 L834.625,398.75 L835.062,392.75 L835.112,392.75 L836,391 L837.25,389.75 L838.5,387.875 L839.5,387.25 L840.375,383.5 L841.25,379.75 L842,378.5 L842.875,379.75 L843.75,377.25 L844.5,376 L845.375,373.5 L846.25,371 L847,373.5 L847.875,376 L848.75,379.75 L849.75,381 L850.75,382.25 L851.625,381.625 L852.5,378.5 L853.25,376.625 L854,378.5 L854.75,381 L855.75,382.875 L856.625,384.125 L857.5,387.25 L858.5,383.5 L859.5,381.625 L860.5,381 L861.5,380.375 L862.5,379.75 L863.5,379.75 L864.25,376 L865,372.25 L866,370.375 L867,372.875 L867.75,375.375 L868.5,376 L869.5,375.375 L870.5,376.625 L871.5,377.25 L872.5,379.125 L873.5,382.25 L874.5,383.5 L875.5,381 L876.25,378.5 L877,376 L877.75,375.375 L878.5,378.5 L879.25,382.25 L880,384.125 L881,384.75 L882,387.25 L883,389.75 L883.625,391.75 L884.125,392.75 L884.562,393.938 L885,392.75 L885.5,391.125 L886.75,390.812 L888,389.875 L888.625,387.375 L889.562,386.75 L890.5,387.062 L891.25,386.438 L892.062,387.375 L892.688,388.625 L893.312,390.5 L893.75,392.75 L894.125,393.625 L894.562,395.812 L895,393.625 L895.312,392.75 L895.5,391.125 L896.125,387.375 L896.75,383.625 L897.375,382.375 L898.125,380.812 L898.75,382.062 L899.25,383.625 L899.75,386.75 L900,391.125 L900.188,392.75 L900.237,392.75 L900.375,395.25 L900.875,396.188 L901.5,394.625 L902,398.375 L902.5,400.562 L903.062,399 L903.688,397.438 L904.312,398.375 L904.938,396.5 L905.562,394.312 L906.188,393.375 L906.625,394.625 L907.125,396.5 L907.625,397.75 L908.25,396.5 L908.688,399.625 L909.125,403.375 L909.625,405.25 L910.25,404 L910.875,402.125 L911.375,401.5 L911.812,404.625 L912.25,407.75 L912.75,410.25 L913.25,411.812 L913.75,411.5 L914.25,413.375 L914.5,413.688 L914.5,392.75Z" fill="#f1b56f" fill-opacity="0.8" clip-path="url(#up)"/>
<path d="M108.75,392.75 L108.75,392.5 L109.375,381.25 L110.25,378.75 L111.25,381.25 L112.5,376.25 L113.75,372.5 L115,370 L116,371.875 L116.875,375 L117.75,377.5 L118.5,381.25 L119.375,377.5 L120,381.25 L120.625,387.5 L121.25,392.5 L122.25,393.125 L123.125,388.75 L123.75,388.125 L124.375,392.5 L124.425,399 L124.475,406.5 L125,421.5 L125.625,440.25 L126.25,450.875 L127,445.25 L127.75,441.5 L128.5,434 L129.125,436.5 L129.75,427.75 L130.375,421.5 L131,422.75 L131.625,415.25 L132.25,420.25 L132.875,414 L133.5,409 L134.375,410.875 L135.25,406.5 L136,402.75 L136.625,407.75 L137.25,409 L137.875,404 L138.5,400.25 L139.125,405.25 L139.75,406.5 L140.375,401.5 L141,399 L141.625,396.5 L142.25,395.25 L142.75,393.375 L143.5,392.5 L144,381.25 L144.75,375 L145.625,373.75 L146.5,371.25 L147.25,363.125 L148.125,368.75 L149,375 L149.75,376.25 L150.625,368.75 L151.5,371.25 L152.5,373.75 L153.5,378.75 L154.375,381.25 L155.25,377.5 L156,370 L156.875,366.25 L157.75,370 L158.75,373.75 L159.75,372.5 L160.625,376.25 L161.5,378.75 L162.5,380 L163.5,381.25 L164.375,377.5 L165.25,378.75 L166.25,383.75 L167.5,385 L168.75,385.625 L170,382.5 L171.25,383.125 L172.5,383.75 L173.75,384.375 L175,383.75 L176,381.25 L176.875,378.75 L177.75,368.75 L178.5,360 L179.375,356.25 L180.25,353.125 L181.25,357.5 L182.25,356.875 L183.125,360.625 L184,363.125 L185,363.75 L186,361.25 L186.875,365 L187.5,369.375 L188.75,370.625 L190,372.5 L191,371.25 L191.875,370 L192.5,375 L193.125,382.5 L193.75,392.5 L193.8,394.625 L194.125,392.5 L194.5,390.625 L195.5,390 L196.75,388.125 L198,386.875 L199,387.5 L199.75,391.25 L200,392.5 L200.25,394.625 L200.625,392.5 L201.125,390.625 L202.375,390 L203.625,389.75 L204.875,390 L206.125,389.375 L206.75,383.75 L207.75,382.5 L208.625,381.875 L209.5,380.625 L210.5,378.75 L211.5,376.875 L212.375,375 L213,368.125 L213.625,363.125 L214.25,365 L214.875,366.875 L215.5,363.75 L216.5,360 L217.375,357.5 L218,352.5 L219,350.625 L219.875,349 L221.125,345.25 L222.375,344 L223.625,346.5 L224.875,351.5 L226.125,345.25 L227,350.25 L229.25,351.25 L230.25,357.5 L231.125,358.75 L231.75,352.5 L232.375,337.75 L233,336.5 L234.25,334 L235.5,327.75 L236.75,321.5 L238,315.25 L239.25,306.5 L240.5,296.5 L241.5,301.5 L242.375,309 L243,319 L244,326.5 L244.875,334 L245.75,339 L246.5,349 L247.375,355.25 L248,357.75 L248.75,355.875 L249.25,354 L250.25,344 L251.125,334 L252,321.5 L252.75,311.5 L253.625,313.375 L254.875,314 L255.75,309 L256.5,302.75 L257.125,300.25 L257.75,304 L258.375,312.75 L259,321.5 L259.875,331.5 L260.5,336.5 L261.5,337.75 L262.375,334 L263,327.75 L263.625,320.25 L264.25,314 L264.875,311.5 L265.5,316.5 L266.125,321.5 L267,326.5 L268,329 L268.625,334 L269.25,339 L270.25,341.5 L271.125,337.75 L272,335.875 L273,339 L274,342.75 L274.875,345.25 L275.75,340.25 L276.75,336.5 L277.375,339 L278,346.5 L278.625,354 L279,352.5 L279.875,360 L280.5,365 L281.125,371.25 L281.75,368.75 L282.375,365 L283,360 L284,361.25 L284.875,363.125 L285.75,361.875 L286.75,363.75 L287.375,370 L288,381.25 L288.625,390 L289,392.5 L289.05,392.75 L289.25,398.75 L290,407.5 L290.875,416.25 L291.75,418.75 L292.5,425 L293,420 L293.75,417.5 L294.625,425.625 L295.5,421.25 L296.25,418.75 L297.125,422.5 L297.75,429.375 L298.5,423.75 L299.25,417.5 L300,413.75 L300.875,416.25 L301.75,421.25 L302.5,426.25 L303.375,433.125 L304.25,430 L305,426.25 L305.875,422.5 L306.75,425 L307.5,426.875 L308.375,426.25 L309.25,428.125 L310.25,426.25 L311.25,428.125 L312.125,430 L313,432.5 L314,434.75 L314.75,430 L315.5,422.5 L316.25,416.25 L317,410 L317.75,405 L318.5,402.5 L319.25,409.375 L320,405 L320.625,396.25 L321.125,392.75 L321.75,388.5 L322.75,386 L323.5,383.5 L324.25,387.25 L325.25,381 L326.25,378.5 L327.125,379.75 L328,381 L329,379.75 L330,380.375 L331,376 L332,370.375 L332.75,376 L333.5,382.25 L334.25,386 L335,384.75 L335.875,380.375 L336.75,379.75 L337.125,392.75 L337.875,399.375 L338.625,392.75 L339,391 L339.625,392.75 L340.125,392.75 L340.75,396.875 L341.625,392.75 L341.675,386 L341.75,376 L342.5,369.75 L343.375,358.5 L344.25,357.25 L345.25,353.5 L346.25,351 L347.125,346 L348,342.25 L348.75,338.5 L349.5,344.75 L350.25,352.25 L351.25,353.5 L352.125,357.25 L353,358.5 L354,359.125 L355,357.25 L355.75,352.25 L356.25,350.375 L357,356 L357.75,361 L358.5,364.75 L359.25,368.5 L360,373.5 L360.875,377.25 L361.75,379.125 L362.75,381 L363.75,382.25 L364.625,383.5 L365.25,387.25 L365.75,392.75 L365.875,392.75 L366.5,402.5 L367.5,400 L368.375,403.75 L369.25,405 L370.25,406.875 L371.25,407.5 L372.125,405 L373,401.25 L373.75,398.75 L374.5,402.5 L375.25,406.875 L376.25,408.125 L377.125,410 L378,412.5 L379,418.125 L380,416.875 L380.875,415 L381.75,412.5 L382.75,415 L383.75,421.25 L384.625,431 L385.5,427.5 L386.5,425 L387.5,421.25 L388.375,423.125 L389.25,421.25 L390,412.5 L390.875,405 L391.75,406.875 L392.75,410 L393.75,409.375 L394.625,413.75 L395.5,417.5 L396.25,421 L397.125,418.75 L398,416.25 L398.75,410 L399.625,405 L400.25,411.25 L401,416.875 L401.75,415.625 L402.75,413.75 L403.75,416.875 L404.625,412.5 L405.5,408.75 L406.25,405 L407.125,401.875 L408,397.5 L408.75,393.75 L409.25,392.75 L409.625,390.625 L410.5,391.875 L411.25,393.125 L412.375,396.25 L413.25,401.25 L414.25,406.25 L414.875,408.125 L415.75,404.375 L416.75,401.875 L417.75,401.25 L418.625,402.5 L419.5,403.75 L420.5,406.875 L421.5,404.375 L422.5,403.125 L423.25,405 L424,410 L424.875,417.5 L425.75,423.75 L426.375,426.25 L427,423.125 L427.75,420 L428.625,421.875 L429.5,422.5 L430.5,420 L431.5,418.75 L432.375,417.5 L433.25,416.25 L434.25,416.875 L435.25,416.25 L436.125,411.25 L436.75,410 L437.5,417.5 L438.25,427.5 L439,435 L439.875,440 L440.5,443.125 L441.25,438.75 L442,435 L442.75,431.25 L443.625,433.75 L444.5,436.25 L445.25,438.75 L446.125,436.875 L447,432.5 L448,428.75 L448.75,431.25 L449.5,434.375 L450.25,430 L451.125,426.25 L452,420 L452.75,417.5 L453.625,416.25 L454.25,420 L455,423.125 L455.75,416.25 L456.5,413.75 L457.375,413.125 L458.25,412.5 L459.25,410.625 L460.25,408.75 L461.125,406.875 L462,405.625 L462.75,407.5 L463.5,412.5 L464.25,417.5 L464.875,419.375 L465.5,416.25 L466.5,418.75 L467.375,421.25 L468.25,420 L469.25,417.5 L470.25,420 L471.125,421.875 L471.75,416.25 L472.375,408.75 L473,404.375 L473.625,410 L474.25,413.125 L475.25,415 L476.125,418.125 L477,416.25 L478,413.125 L479,413.75 L479.875,411.25 L480.75,410.625 L481.75,408.125 L482.75,409.375 L483.625,408.75 L484.5,406.875 L485.5,407.5 L486.5,405 L487.5,405.625 L488.5,402.5 L489.5,400 L490.5,398.125 L491.5,396.25 L492.375,397.5 L493,393.75 L493.625,391.875 L494.25,396.25 L494.75,411.25 L495.25,421.25 L495.875,416.25 L496.5,412.5 L497.375,413.75 L498.25,411.875 L499.25,410.625 L500,414.375 L500.75,411.25 L501.75,408.75 L502.625,409.375 L503.625,405.625 L504.5,404.375 L505.5,403.125 L506.5,403.75 L507.375,402.5 L508.375,401.875 L509.25,403.125 L510,406.25 L510.75,404.375 L511.75,403.125 L512.75,403.75 L513.75,403.125 L514.875,401.875 L515.75,400.625 L516.75,399.375 L517.75,397.5 L518.5,395 L519,392.75 L519.25,392.75 L519.75,382.25 L520.5,372.25 L521.375,371 L522.25,364.75 L523.25,362.875 L524.25,363.5 L525.25,362.25 L526.25,361 L527.25,363.5 L528.25,366 L529.25,368.5 L530.125,376 L531,374.75 L531.75,363.5 L532.625,361 L533.5,360.375 L534.5,361.625 L535.5,366 L536.375,368.5 L537.25,369.125 L538.25,372.25 L539.25,377.25 L540.125,381 L540.75,387.25 L541.125,391.25 L541.5,384.75 L541.875,374.75 L542.25,364.75 L543,358.5 L543.875,351 L544.75,346.625 L545.75,349.75 L546.75,352.25 L547.625,352.875 L548.5,354.75 L549.5,356.625 L550.5,359.125 L551.375,359.75 L552.25,353.5 L553.25,350.375 L554.25,351.625 L555.125,354.125 L556,358.5 L556.75,367.25 L557.625,370.375 L558.5,368.5 L559.25,366 L560.125,367.875 L561,369.75 L562,371.625 L563,376 L563.875,379.75 L564.75,382.25 L565.75,383.5 L566.75,384.125 L567.625,385.375 L568.5,386 L569.5,387.25 L570.5,387.875 L571.25,382.875 L572,386 L572.75,388.5 L573.5,389.75 L574.25,390.375 L574.3,392.75 L574.35,395.375 L574.875,393.5 L575.812,394.75 L576.75,397.25 L577.5,399.75 L578.125,396.625 L578.75,394.125 L579.25,392.75 L579.3,388.5 L579.75,378.5 L580.5,376.625 L581.375,376 L582.25,377.25 L583.25,379.75 L584.25,377.25 L585.125,378.5 L586,381 L587,382.25 L587.75,379.75 L588.5,377.875 L589.25,381 L590.125,382.875 L591,384.125 L592,384.75 L593,386.625 L593.875,387.875 L594.75,387.25 L595.75,389.125 L596.75,388.5 L597.625,389.75 L598.5,387.25 L599.25,388.5 L600.125,389.75 L601,391 L601.438,392.75 L601.875,401 L602.375,404.125 L603,403.5 L603.938,402.875 L604.875,403.188 L605.5,402.25 L606.125,401 L606.75,402.875 L607.688,403.5 L608.625,402.875 L609.562,402.25 L610.5,402.875 L611.125,403.5 L611.562,405.875 L612.062,402.25 L612.688,400.375 L613.312,399.75 L613.938,399.125 L614.875,398.5 L615.812,399.125 L616.438,400.688 L617.375,399.75 L618,397.25 L618.625,395.375 L619.562,394.125 L620.5,393.812 L621.438,393.188 L622.062,394.125 L622.688,396.625 L623.312,397.875 L623.938,397.25 L624.562,394.75 L624.875,392.75 L625.125,389.75 L626,384.75 L626.75,376 L627.625,369.125 L628.5,367.875 L629.5,369.75 L630.5,367.25 L631.375,369.125 L632.25,369.75 L633.25,366 L634.25,364.125 L635.125,366 L636,364.125 L637,366.625 L638,367.875 L639,368.5 L639.05,367.25 L639.1,368.5 L639.125,369.125 L640.375,369.75 L641.25,368.5 L642,363.5 L642.875,354.75 L643.75,351.625 L644.5,354.125 L645.375,357.25 L646.25,361 L647.25,363.5 L648.25,364.75 L649.125,362.25 L650,361.625 L651,363.5 L652,367.25 L652.875,369.75 L653.75,368.5 L654.5,365.375 L655.375,370.375 L656.25,363.5 L657,361.625 L657.875,366 L658.5,373.5 L659.25,377.25 L660,378.5 L660.75,381 L661.625,383.5 L662.25,387.25 L663.25,384.75 L664.125,381 L665,379.75 L666,381.625 L667,382.25 L667.875,376 L668.75,368.5 L669.75,363.5 L670.75,361 L671.625,362.25 L672.5,363.5 L673.5,366 L674.5,361 L675.25,351 L676,344.75 L676.75,343.5 L677.5,337.25 L678.25,336.625 L679,344.75 L679.75,347.25 L680.5,342.875 L681.25,346 L682,353.5 L682.875,361 L683.75,363.5 L684.75,367.25 L685.75,363.5 L686.625,362.875 L687.5,363.5 L688.5,367.25 L689.5,369.75 L690.375,367.25 L691.25,365.375 L692,368.5 L692.875,373.5 L693.75,378.5 L694.5,382.25 L695.375,381 L696.25,377.25 L697,376.625 L697.875,381 L698.75,386 L699.75,384.75 L700.75,384.125 L701.625,386 L702.5,388.5 L703.5,387.25 L704.5,383.5 L705.375,379.75 L706.25,376 L707.25,372.25 L708,376 L708.75,378.5 L709.75,377.875 L710.75,381 L711.625,379.75 L712.5,377.25 L713.25,376.625 L714.125,379.75 L715,382.25 L716,386 L717,387.25 L717.875,389.75 L718.875,392.75 L719.812,398.125 L720.438,400.625 L721.375,400 L722.312,398.75 L722.938,399.375 L723.562,403.75 L724.188,406.875 L725.125,409.375 L726.062,407.5 L727,405.625 L727.625,401.875 L728.25,397.5 L728.875,394.375 L729.5,392.75 L729.812,391.25 L730.438,387.5 L731.062,389.375 L732,388.125 L732.938,387.812 L733.562,390.625 L733.875,392.75 L734.188,393.438 L734.812,398.75 L735.438,406.25 L736.062,411.875 L736.5,413.438 L737,411.25 L737.5,406.25 L737.938,402.5 L738.562,403.75 L739.188,405 L740.125,405.312 L740.75,403.75 L741.375,401.875 L742,400.625 L742.625,397.5 L743.25,393.438 L743.875,395.625 L744.5,400 L745.438,402.5 L746.375,404.062 L747.312,404.375 L747.938,408.125 L748.562,410 L749.188,407.5 L749.812,404.375 L750.438,401.875 L751.375,400 L752.312,399.375 L752.938,395 L753.25,392.75 L753.562,391.25 L754.5,390 L755.438,388.75 L756.375,386.875 L757,388.125 L757.5,392.75 L757.75,393.125 L758.25,396.875 L758.875,394.375 L759.5,393.438 L760.438,393.75 L761.062,396.25 L761.5,397.812 L761.875,394.375 L762.125,392.75 L762.5,389.375 L762.875,386 L763.75,383.5 L764.75,382.875 L765.75,384.75 L766.625,384.125 L767.5,381 L768.25,376.625 L769,376 L769.75,379.75 L770.5,383.5 L771,376 L771.75,372.25 L772.5,363.5 L773.25,353.5 L774,352.875 L774.75,356 L775.5,357.25 L776.25,356 L777,352.25 L777.5,350.375 L778.25,354.75 L779,359.75 L780,360.375 L781,359.75 L782,361 L783,362.25 L784,363.5 L785,365.375 L785.75,364.75 L786.5,361 L787.25,362.25 L788,368.5 L788.75,376 L789.75,375.375 L790.75,377.25 L791.5,379.75 L792.25,381 L793,382.25 L793.75,376 L794.5,372.875 L795.25,377.25 L796,383.5 L796.75,384.125 L797.5,379.75 L798.25,374.75 L799,372.25 L799.75,371 L800.5,372.875 L801.25,374.125 L802,376 L802.75,377.25 L803.5,375.375 L804.25,377.25 L805,381 L805.75,384.75 L806.5,387.25 L807.5,386 L808.5,385.375 L809.5,387.25 L810.5,386.625 L811.5,386 L812.5,388.5 L812.75,392.75 L813.375,398.75 L813.875,403.125 L814.312,404.062 L814.938,401.875 L815.562,400 L816.188,399.688 L816.812,400.625 L817.438,403.75 L818.062,408.125 L818.688,410.938 L819.312,409.375 L819.938,408.125 L820.875,406.875 L821.812,405.625 L822.75,405 L823.5,403.75 L824.125,401.875 L824.75,403.75 L825.375,406.25 L826.188,407.5 L827.125,406.875 L828.062,407.5 L828.688,411.25 L829.312,415 L829.625,415.625 L830.125,413.125 L830.75,407.5 L831.5,405 L832.438,404.688 L833.375,403.75 L834,402.5 L834.625,398.75 L835.062,392.75 L835.112,392.75 L836,391 L837.25,389.75 L838.5,387.875 L839.5,387.25 L840.375,383.5 L841.25,379.75 L842,378.5 L842.875,379.75 L843.75,377.25 L844.5,376 L845.375,373.5 L846.25,371 L847,373.5 L847.875,376 L848.75,379.75 L849.75,381 L850.75,382.25 L851.625,381.625 L852.5,378.5 L853.25,376.625 L854,378.5 L854.75,381 L855.75,382.875 L856.625,384.125 L857.5,387.25 L858.5,383.5 L859.5,381.625 L860.5,381 L861.5,380.375 L862.5,379.75 L863.5,379.75 L864.25,376 L865,372.25 L866,370.375 L867,372.875 L867.75,375.375 L868.5,376 L869.5,375.375 L870.5,376.625 L871.5,377.25 L872.5,379.125 L873.5,382.25 L874.5,383.5 L875.5,381 L876.25,378.5 L877,376 L877.75,375.375 L878.5,378.5 L879.25,382.25 L880,384.125 L881,384.75 L882,387.25 L883,389.75 L883.625,391.75 L884.125,392.75 L884.562,393.938 L885,392.75 L885.5,391.125 L886.75,390.812 L888,389.875 L888.625,387.375 L889.562,386.75 L890.5,387.062 L891.25,386.438 L892.062,387.375 L892.688,388.625 L893.312,390.5 L893.75,392.75 L894.125,393.625 L894.562,395.812 L895,393.625 L895.312,392.75 L895.5,391.125 L896.125,387.375 L896.75,383.625 L897.375,382.375 L898.125,380.812 L898.75,382.062 L899.25,383.625 L899.75,386.75 L900,391.125 L900.188,392.75 L900.237,392.75 L900.375,395.25 L900.875,396.188 L901.5,394.625 L902,398.375 L902.5,400.562 L903.062,399 L903.688,397.438 L904.312,398.375 L904.938,396.5 L905.562,394.312 L906.188,393.375 L906.625,394.625 L907.125,396.5 L907.625,397.75 L908.25,396.5 L908.688,399.625 L909.125,403.375 L909.625,405.25 L910.25,404 L910.875,402.125 L911.375,401.5 L911.812,404.625 L912.25,407.75 L912.75,410.25 L913.25,411.812 L913.75,411.5 L914.25,413.375 L914.5,413.688 L914.5,392.75Z" fill="#fd1063" fill-opacity="0.88" clip-path="url(#dn)"/>
<path d="M108.75,392.5 L109.375,381.25 L110.25,378.75 L111.25,381.25 L112.5,376.25 L113.75,372.5 L115,370 L116,371.875 L116.875,375 L117.75,377.5 L118.5,381.25 L119.375,377.5 L120,381.25 L120.625,387.5 L121.25,392.5 L122.25,393.125 L123.125,388.75 L123.75,388.125 L124.375,392.5 L124.425,399 L124.475,406.5 L125,421.5 L125.625,440.25 L126.25,450.875 L127,445.25 L127.75,441.5 L128.5,434 L129.125,436.5 L129.75,427.75 L130.375,421.5 L131,422.75 L131.625,415.25 L132.25,420.25 L132.875,414 L133.5,409 L134.375,410.875 L135.25,406.5 L136,402.75 L136.625,407.75 L137.25,409 L137.875,404 L138.5,400.25 L139.125,405.25 L139.75,406.5 L140.375,401.5 L141,399 L141.625,396.5 L142.25,395.25 L142.75,393.375 L143.5,392.5 L144,381.25 L144.75,375 L145.625,373.75 L146.5,371.25 L147.25,363.125 L148.125,368.75 L149,375 L149.75,376.25 L150.625,368.75 L151.5,371.25 L152.5,373.75 L153.5,378.75 L154.375,381.25 L155.25,377.5 L156,370 L156.875,366.25 L157.75,370 L158.75,373.75 L159.75,372.5 L160.625,376.25 L161.5,378.75 L162.5,380 L163.5,381.25 L164.375,377.5 L165.25,378.75 L166.25,383.75 L167.5,385 L168.75,385.625 L170,382.5 L171.25,383.125 L172.5,383.75 L173.75,384.375 L175,383.75 L176,381.25 L176.875,378.75 L177.75,368.75 L178.5,360 L179.375,356.25 L180.25,353.125 L181.25,357.5 L182.25,356.875 L183.125,360.625 L184,363.125 L185,363.75 L186,361.25 L186.875,365 L187.5,369.375 L188.75,370.625 L190,372.5 L191,371.25 L191.875,370 L192.5,375 L193.125,382.5 L193.75,392.5 L193.8,394.625 L194.125,392.5 L194.5,390.625 L195.5,390 L196.75,388.125 L198,386.875 L199,387.5 L199.75,391.25 L200,392.5 L200.25,394.625 L200.625,392.5 L201.125,390.625 L202.375,390 L203.625,389.75 L204.875,390 L206.125,389.375 L206.75,383.75 L207.75,382.5 L208.625,381.875 L209.5,380.625 L210.5,378.75 L211.5,376.875 L212.375,375 L213,368.125 L213.625,363.125 L214.25,365 L214.875,366.875 L215.5,363.75 L216.5,360 L217.375,357.5 L218,352.5 L219,350.625 L219.875,349 L221.125,345.25 L222.375,344 L223.625,346.5 L224.875,351.5 L226.125,345.25 L227,350.25 L229.25,351.25 L230.25,357.5 L231.125,358.75 L231.75,352.5 L232.375,337.75 L233,336.5 L234.25,334 L235.5,327.75 L236.75,321.5 L238,315.25 L239.25,306.5 L240.5,296.5 L241.5,301.5 L242.375,309 L243,319 L244,326.5 L244.875,334 L245.75,339 L246.5,349 L247.375,355.25 L248,357.75 L248.75,355.875 L249.25,354 L250.25,344 L251.125,334 L252,321.5 L252.75,311.5 L253.625,313.375 L254.875,314 L255.75,309 L256.5,302.75 L257.125,300.25 L257.75,304 L258.375,312.75 L259,321.5 L259.875,331.5 L260.5,336.5 L261.5,337.75 L262.375,334 L263,327.75 L263.625,320.25 L264.25,314 L264.875,311.5 L265.5,316.5 L266.125,321.5 L267,326.5 L268,329 L268.625,334 L269.25,339 L270.25,341.5 L271.125,337.75 L272,335.875 L273,339 L274,342.75 L274.875,345.25 L275.75,340.25 L276.75,336.5 L277.375,339 L278,346.5 L278.625,354 L279,352.5 L279.875,360 L280.5,365 L281.125,371.25 L281.75,368.75 L282.375,365 L283,360 L284,361.25 L284.875,363.125 L285.75,361.875 L286.75,363.75 L287.375,370 L288,381.25 L288.625,390 L289,392.5 L289.05,392.75 L289.25,398.75 L290,407.5 L290.875,416.25 L291.75,418.75 L292.5,425 L293,420 L293.75,417.5 L294.625,425.625 L295.5,421.25 L296.25,418.75 L297.125,422.5 L297.75,429.375 L298.5,423.75 L299.25,417.5 L300,413.75 L300.875,416.25 L301.75,421.25 L302.5,426.25 L303.375,433.125 L304.25,430 L305,426.25 L305.875,422.5 L306.75,425 L307.5,426.875 L308.375,426.25 L309.25,428.125 L310.25,426.25 L311.25,428.125 L312.125,430 L313,432.5 L314,434.75 L314.75,430 L315.5,422.5 L316.25,416.25 L317,410 L317.75,405 L318.5,402.5 L319.25,409.375 L320,405 L320.625,396.25 L321.125,392.75 L321.75,388.5 L322.75,386 L323.5,383.5 L324.25,387.25 L325.25,381 L326.25,378.5 L327.125,379.75 L328,381 L329,379.75 L330,380.375 L331,376 L332,370.375 L332.75,376 L333.5,382.25 L334.25,386 L335,384.75 L335.875,380.375 L336.75,379.75 L337.125,392.75 L337.875,399.375 L338.625,392.75 L339,391 L339.625,392.75 L340.125,392.75 L340.75,396.875 L341.625,392.75 L341.675,386 L341.75,376 L342.5,369.75 L343.375,358.5 L344.25,357.25 L345.25,353.5 L346.25,351 L347.125,346 L348,342.25 L348.75,338.5 L349.5,344.75 L350.25,352.25 L351.25,353.5 L352.125,357.25 L353,358.5 L354,359.125 L355,357.25 L355.75,352.25 L356.25,350.375 L357,356 L357.75,361 L358.5,364.75 L359.25,368.5 L360,373.5 L360.875,377.25 L361.75,379.125 L362.75,381 L363.75,382.25 L364.625,383.5 L365.25,387.25 L365.75,392.75 L365.875,392.75 L366.5,402.5 L367.5,400 L368.375,403.75 L369.25,405 L370.25,406.875 L371.25,407.5 L372.125,405 L373,401.25 L373.75,398.75 L374.5,402.5 L375.25,406.875 L376.25,408.125 L377.125,410 L378,412.5 L379,418.125 L380,416.875 L380.875,415 L381.75,412.5 L382.75,415 L383.75,421.25 L384.625,431 L385.5,427.5 L386.5,425 L387.5,421.25 L388.375,423.125 L389.25,421.25 L390,412.5 L390.875,405 L391.75,406.875 L392.75,410 L393.75,409.375 L394.625,413.75 L395.5,417.5 L396.25,421 L397.125,418.75 L398,416.25 L398.75,410 L399.625,405 L400.25,411.25 L401,416.875 L401.75,415.625 L402.75,413.75 L403.75,416.875 L404.625,412.5 L405.5,408.75 L406.25,405 L407.125,401.875 L408,397.5 L408.75,393.75 L409.25,392.75 L409.625,390.625 L410.5,391.875 L411.25,393.125 L412.375,396.25 L413.25,401.25 L414.25,406.25 L414.875,408.125 L415.75,404.375 L416.75,401.875 L417.75,401.25 L418.625,402.5 L419.5,403.75 L420.5,406.875 L421.5,404.375 L422.5,403.125 L423.25,405 L424,410 L424.875,417.5 L425.75,423.75 L426.375,426.25 L427,423.125 L427.75,420 L428.625,421.875 L429.5,422.5 L430.5,420 L431.5,418.75 L432.375,417.5 L433.25,416.25 L434.25,416.875 L435.25,416.25 L436.125,411.25 L436.75,410 L437.5,417.5 L438.25,427.5 L439,435 L439.875,440 L440.5,443.125 L441.25,438.75 L442,435 L442.75,431.25 L443.625,433.75 L444.5,436.25 L445.25,438.75 L446.125,436.875 L447,432.5 L448,428.75 L448.75,431.25 L449.5,434.375 L450.25,430 L451.125,426.25 L452,420 L452.75,417.5 L453.625,416.25 L454.25,420 L455,423.125 L455.75,416.25 L456.5,413.75 L457.375,413.125 L458.25,412.5 L459.25,410.625 L460.25,408.75 L461.125,406.875 L462,405.625 L462.75,407.5 L463.5,412.5 L464.25,417.5 L464.875,419.375 L465.5,416.25 L466.5,418.75 L467.375,421.25 L468.25,420 L469.25,417.5 L470.25,420 L471.125,421.875 L471.75,416.25 L472.375,408.75 L473,404.375 L473.625,410 L474.25,413.125 L475.25,415 L476.125,418.125 L477,416.25 L478,413.125 L479,413.75 L479.875,411.25 L480.75,410.625 L481.75,408.125 L482.75,409.375 L483.625,408.75 L484.5,406.875 L485.5,407.5 L486.5,405 L487.5,405.625 L488.5,402.5 L489.5,400 L490.5,398.125 L491.5,396.25 L492.375,397.5 L493,393.75 L493.625,391.875 L494.25,396.25 L494.75,411.25 L495.25,421.25 L495.875,416.25 L496.5,412.5 L497.375,413.75 L498.25,411.875 L499.25,410.625 L500,414.375 L500.75,411.25 L501.75,408.75 L502.625,409.375 L503.625,405.625 L504.5,404.375 L505.5,403.125 L506.5,403.75 L507.375,402.5 L508.375,401.875 L509.25,403.125 L510,406.25 L510.75,404.375 L511.75,403.125 L512.75,403.75 L513.75,403.125 L514.875,401.875 L515.75,400.625 L516.75,399.375 L517.75,397.5 L518.5,395 L519,392.75 L519.25,392.75 L519.75,382.25 L520.5,372.25 L521.375,371 L522.25,364.75 L523.25,362.875 L524.25,363.5 L525.25,362.25 L526.25,361 L527.25,363.5 L528.25,366 L529.25,368.5 L530.125,376 L531,374.75 L531.75,363.5 L532.625,361 L533.5,360.375 L534.5,361.625 L535.5,366 L536.375,368.5 L537.25,369.125 L538.25,372.25 L539.25,377.25 L540.125,381 L540.75,387.25 L541.125,391.25 L541.5,384.75 L541.875,374.75 L542.25,364.75 L543,358.5 L543.875,351 L544.75,346.625 L545.75,349.75 L546.75,352.25 L547.625,352.875 L548.5,354.75 L549.5,356.625 L550.5,359.125 L551.375,359.75 L552.25,353.5 L553.25,350.375 L554.25,351.625 L555.125,354.125 L556,358.5 L556.75,367.25 L557.625,370.375 L558.5,368.5 L559.25,366 L560.125,367.875 L561,369.75 L562,371.625 L563,376 L563.875,379.75 L564.75,382.25 L565.75,383.5 L566.75,384.125 L567.625,385.375 L568.5,386 L569.5,387.25 L570.5,387.875 L571.25,382.875 L572,386 L572.75,388.5 L573.5,389.75 L574.25,390.375 L574.3,392.75 L574.35,395.375 L574.875,393.5 L575.812,394.75 L576.75,397.25 L577.5,399.75 L578.125,396.625 L578.75,394.125 L579.25,392.75 L579.3,388.5 L579.75,378.5 L580.5,376.625 L581.375,376 L582.25,377.25 L583.25,379.75 L584.25,377.25 L585.125,378.5 L586,381 L587,382.25 L587.75,379.75 L588.5,377.875 L589.25,381 L590.125,382.875 L591,384.125 L592,384.75 L593,386.625 L593.875,387.875 L594.75,387.25 L595.75,389.125 L596.75,388.5 L597.625,389.75 L598.5,387.25 L599.25,388.5 L600.125,389.75 L601,391 L601.438,392.75 L601.875,401 L602.375,404.125 L603,403.5 L603.938,402.875 L604.875,403.188 L605.5,402.25 L606.125,401 L606.75,402.875 L607.688,403.5 L608.625,402.875 L609.562,402.25 L610.5,402.875 L611.125,403.5 L611.562,405.875 L612.062,402.25 L612.688,400.375 L613.312,399.75 L613.938,399.125 L614.875,398.5 L615.812,399.125 L616.438,400.688 L617.375,399.75 L618,397.25 L618.625,395.375 L619.562,394.125 L620.5,393.812 L621.438,393.188 L622.062,394.125 L622.688,396.625 L623.312,397.875 L623.938,397.25 L624.562,394.75 L624.875,392.75 L625.125,389.75 L626,384.75 L626.75,376 L627.625,369.125 L628.5,367.875 L629.5,369.75 L630.5,367.25 L631.375,369.125 L632.25,369.75 L633.25,366 L634.25,364.125 L635.125,366 L636,364.125 L637,366.625 L638,367.875 L639,368.5 L639.05,367.25 L639.1,368.5 L639.125,369.125 L640.375,369.75 L641.25,368.5 L642,363.5 L642.875,354.75 L643.75,351.625 L644.5,354.125 L645.375,357.25 L646.25,361 L647.25,363.5 L648.25,364.75 L649.125,362.25 L650,361.625 L651,363.5 L652,367.25 L652.875,369.75 L653.75,368.5 L654.5,365.375 L655.375,370.375 L656.25,363.5 L657,361.625 L657.875,366 L658.5,373.5 L659.25,377.25 L660,378.5 L660.75,381 L661.625,383.5 L662.25,387.25 L663.25,384.75 L664.125,381 L665,379.75 L666,381.625 L667,382.25 L667.875,376 L668.75,368.5 L669.75,363.5 L670.75,361 L671.625,362.25 L672.5,363.5 L673.5,366 L674.5,361 L675.25,351 L676,344.75 L676.75,343.5 L677.5,337.25 L678.25,336.625 L679,344.75 L679.75,347.25 L680.5,342.875 L681.25,346 L682,353.5 L682.875,361 L683.75,363.5 L684.75,367.25 L685.75,363.5 L686.625,362.875 L687.5,363.5 L688.5,367.25 L689.5,369.75 L690.375,367.25 L691.25,365.375 L692,368.5 L692.875,373.5 L693.75,378.5 L694.5,382.25 L695.375,381 L696.25,377.25 L697,376.625 L697.875,381 L698.75,386 L699.75,384.75 L700.75,384.125 L701.625,386 L702.5,388.5 L703.5,387.25 L704.5,383.5 L705.375,379.75 L706.25,376 L707.25,372.25 L708,376 L708.75,378.5 L709.75,377.875 L710.75,381 L711.625,379.75 L712.5,377.25 L713.25,376.625 L714.125,379.75 L715,382.25 L716,386 L717,387.25 L717.875,389.75 L718.875,392.75 L719.812,398.125 L720.438,400.625 L721.375,400 L722.312,398.75 L722.938,399.375 L723.562,403.75 L724.188,406.875 L725.125,409.375 L726.062,407.5 L727,405.625 L727.625,401.875 L728.25,397.5 L728.875,394.375 L729.5,392.75 L729.812,391.25 L730.438,387.5 L731.062,389.375 L732,388.125 L732.938,387.812 L733.562,390.625 L733.875,392.75 L734.188,393.438 L734.812,398.75 L735.438,406.25 L736.062,411.875 L736.5,413.438 L737,411.25 L737.5,406.25 L737.938,402.5 L738.562,403.75 L739.188,405 L740.125,405.312 L740.75,403.75 L741.375,401.875 L742,400.625 L742.625,397.5 L743.25,393.438 L743.875,395.625 L744.5,400 L745.438,402.5 L746.375,404.062 L747.312,404.375 L747.938,408.125 L748.562,410 L749.188,407.5 L749.812,404.375 L750.438,401.875 L751.375,400 L752.312,399.375 L752.938,395 L753.25,392.75 L753.562,391.25 L754.5,390 L755.438,388.75 L756.375,386.875 L757,388.125 L757.5,392.75 L757.75,393.125 L758.25,396.875 L758.875,394.375 L759.5,393.438 L760.438,393.75 L761.062,396.25 L761.5,397.812 L761.875,394.375 L762.125,392.75 L762.5,389.375 L762.875,386 L763.75,383.5 L764.75,382.875 L765.75,384.75 L766.625,384.125 L767.5,381 L768.25,376.625 L769,376 L769.75,379.75 L770.5,383.5 L771,376 L771.75,372.25 L772.5,363.5 L773.25,353.5 L774,352.875 L774.75,356 L775.5,357.25 L776.25,356 L777,352.25 L777.5,350.375 L778.25,354.75 L779,359.75 L780,360.375 L781,359.75 L782,361 L783,362.25 L784,363.5 L785,365.375 L785.75,364.75 L786.5,361 L787.25,362.25 L788,368.5 L788.75,376 L789.75,375.375 L790.75,377.25 L791.5,379.75 L792.25,381 L793,382.25 L793.75,376 L794.5,372.875 L795.25,377.25 L796,383.5 L796.75,384.125 L797.5,379.75 L798.25,374.75 L799,372.25 L799.75,371 L800.5,372.875 L801.25,374.125 L802,376 L802.75,377.25 L803.5,375.375 L804.25,377.25 L805,381 L805.75,384.75 L806.5,387.25 L807.5,386 L808.5,385.375 L809.5,387.25 L810.5,386.625 L811.5,386 L812.5,388.5 L812.75,392.75 L813.375,398.75 L813.875,403.125 L814.312,404.062 L814.938,401.875 L815.562,400 L816.188,399.688 L816.812,400.625 L817.438,403.75 L818.062,408.125 L818.688,410.938 L819.312,409.375 L819.938,408.125 L820.875,406.875 L821.812,405.625 L822.75,405 L823.5,403.75 L824.125,401.875 L824.75,403.75 L825.375,406.25 L826.188,407.5 L827.125,406.875 L828.062,407.5 L828.688,411.25 L829.312,415 L829.625,415.625 L830.125,413.125 L830.75,407.5 L831.5,405 L832.438,404.688 L833.375,403.75 L834,402.5 L834.625,398.75 L835.062,392.75 L835.112,392.75 L836,391 L837.25,389.75 L838.5,387.875 L839.5,387.25 L840.375,383.5 L841.25,379.75 L842,378.5 L842.875,379.75 L843.75,377.25 L844.5,376 L845.375,373.5 L846.25,371 L847,373.5 L847.875,376 L848.75,379.75 L849.75,381 L850.75,382.25 L851.625,381.625 L852.5,378.5 L853.25,376.625 L854,378.5 L854.75,381 L855.75,382.875 L856.625,384.125 L857.5,387.25 L858.5,383.5 L859.5,381.625 L860.5,381 L861.5,380.375 L862.5,379.75 L863.5,379.75 L864.25,376 L865,372.25 L866,370.375 L867,372.875 L867.75,375.375 L868.5,376 L869.5,375.375 L870.5,376.625 L871.5,377.25 L872.5,379.125 L873.5,382.25 L874.5,383.5 L875.5,381 L876.25,378.5 L877,376 L877.75,375.375 L878.5,378.5 L879.25,382.25 L880,384.125 L881,384.75 L882,387.25 L883,389.75 L883.625,391.75 L884.125,392.75 L884.562,393.938 L885,392.75 L885.5,391.125 L886.75,390.812 L888,389.875 L888.625,387.375 L889.562,386.75 L890.5,387.062 L891.25,386.438 L892.062,387.375 L892.688,388.625 L893.312,390.5 L893.75,392.75 L894.125,393.625 L894.562,395.812 L895,393.625 L895.312,392.75 L895.5,391.125 L896.125,387.375 L896.75,383.625 L897.375,382.375 L898.125,380.812 L898.75,382.062 L899.25,383.625 L899.75,386.75 L900,391.125 L900.188,392.75 L900.237,392.75 L900.375,395.25 L900.875,396.188 L901.5,394.625 L902,398.375 L902.5,400.562 L903.062,399 L903.688,397.438 L904.312,398.375 L904.938,396.5 L905.562,394.312 L906.188,393.375 L906.625,394.625 L907.125,396.5 L907.625,397.75 L908.25,396.5 L908.688,399.625 L909.125,403.375 L909.625,405.25 L910.25,404 L910.875,402.125 L911.375,401.5 L911.812,404.625 L912.25,407.75 L912.75,410.25 L913.25,411.812 L913.75,411.5 L914.25,413.375 L914.5,413.688" fill="none" stroke="#dd155a" stroke-opacity="0.7" stroke-width="0.6" clip-path="url(#dn)"/>
<line x1="107" y1="392.9" x2="917" y2="392.9" stroke="#f0687f" stroke-width="1.8"/>
<path d="M108.7,401.3 L110.9,399.75 L113.4,398.5 L116.5,397.25 L119.6,396.3 L122.1,395.7 L124,395.6 L126,396 L128,399 L130,403 L132,407 L134,409.75 L136.5,410.7 L139,411.6 L141.5,412.5 L142.4,412.25 L144,410.4 L145.25,408.5 L146.5,406.6 L147.75,405 L149,404.75 L150.25,404.4 L151.5,403.8 L152.75,403.5 L154,404.1 L155.25,402.9 L157.1,402 L159,401 L161.5,400.2 L164,399.5 L166.5,399.1 L170,398.75 L173.75,399.2 L176.25,399.2 L178.75,397.5 L181.25,393.75 L183.75,390 L186.25,386.9 L188.75,384.6 L191.25,383.4 L195,383 L198.75,382.6 L202.5,381.7 L206.25,380.6 L209.9,379 L211.75,377 L213.6,374.7 L215.5,372 L218,368 L220.5,363.6 L223,359.5 L225.5,355.6 L228,352 L230.5,348.9 L232.4,345.2 L233.6,340.8 L234.9,335.5 L236.1,330.25 L237.4,325.25 L238.6,320.25 L239.9,315.25 L241.1,310.25 L242.4,306.5 L243.6,304.6 L245.5,302.75 L247.4,301.5 L249.25,299.6 L250.5,297.75 L251.75,295.25 L253,292.5 L254.25,289 L255.5,285.8 L256.5,283.3 L258,279 L260.5,274.75 L263,271.6 L265.5,267.9 L268,264.1 L270.5,261 L273,257.9 L275.5,254.75 L278,251.6 L280.5,250.4 L283,249.1 L285.5,247.25 L287.4,246 L289.25,245.75 L291.1,247.9 L293,247.25 L295.5,246.6 L298,246 L299.9,246.25 L301.75,245.75 L303.6,247.25 L305.5,247.9 L308,248.75 L310.5,249.5 L313,251 L315.5,252 L318,252.5 L320.5,252.9 L323,252.25 L325.5,252.9 L328,252.5 L330.5,252.25 L333,252.5 L335.5,253.25 L338,254.75 L340.5,256.5 L342.4,256 L344.25,254.2 L346.1,252.2 L348,249.8 L350,247 L352.5,243.75 L355,240.6 L356.9,238.1 L358.1,236.25 L360,235.6 L362.5,235.6 L365,235.6 L367.5,236.25 L370,236.9 L372.5,236.9 L375,236.25 L376.9,236 L378.75,236.9 L381.25,238.1 L383.75,239.4 L386.25,241.9 L388.75,243.75 L391.25,243.75 L393.75,243.1 L395.6,244.4 L397.5,245 L400,246 L402.5,246.9 L405,247.5 L407.5,248.1 L410,248.5 L412.5,249 L415,250.6 L417.5,253.1 L420,255 L422.5,256.9 L425,259.4 L426.9,263.1 L428.75,265.4 L431.25,267.3 L433.75,269.2 L436.25,271.2 L438.1,273.2 L439.4,277.1 L440.6,279.6 L442.5,282.1 L444.4,284 L445.6,283.4 L446.9,286.5 L448.75,288.4 L450.6,290.25 L452.5,291.5 L454.4,293.4 L456.25,294 L458.1,295.9 L460,296.75 L462.5,297.75 L465,299.6 L467.5,302.1 L470,304 L472.5,305.9 L475,307.75 L477.5,309.6 L480,311.5 L482.5,313.1 L485,314.6 L487.5,316.5 L490,318 L492.5,319 L494.4,320 L495.6,322.1 L497.5,324.6 L500,326.5 L502.5,328.4 L505,329.25 L507.5,330 L510,330.9 L512.5,331.75 L515,332.5 L517.5,333 L519.4,333.1 L521.25,332.1 L523.75,330.25 L526.25,329 L528.75,327.75 L531.25,326.5 L533.75,325.9 L536.25,325 L538.75,324.25 L540.6,324.6 L542.5,322.75 L545,320.1 L547.5,317.5 L550,314.9 L552.5,312.4 L555,309.9 L557.5,307.4 L560,305.5 L562.5,303.6 L565,302.4 L567.5,301.5 L570,300.5 L572.5,299.5 L575,298.6 L577.5,298 L580,296.5 L582.5,295.25 L585,294.25 L587.5,293.4 L590,292.75 L592.5,292.4 L595,292 L597.5,291.5 L600,291.1 L602.5,291.5 L605,292 L607.5,292.6 L610,293 L612.5,293.4 L615,293.6 L617.5,293.9 L620,293.9 L622.5,293.6 L625,292.75 L627.5,291.1 L630,289.25 L632.5,287.4 L635,285.5 L637.5,283.6 L640,281.75 L642.5,279.25 L645,276.75 L647.5,274.25 L650,272.4 L652.5,269.9 L655,268 L657.5,266.1 L660,265 L662.5,263.8 L665,262.3 L667.5,260.3 L670,257.5 L672.5,254.75 L674.4,252.25 L676.25,248.5 L678.1,243.5 L680,238.5 L681.25,234.75 L682.5,233.25 L684.4,231.6 L686.25,230 L688.75,228.5 L691.25,227.25 L693.75,226.4 L696.25,225.75 L698.75,225.1 L701.25,224.5 L703.75,223.75 L706.25,222.5 L708.75,221.4 L711.25,220.4 L713.75,219.5 L716.25,219.1 L718.75,218.5 L721.25,218.5 L723.75,218.5 L726.25,217.9 L728.75,217 L731.25,216.6 L733.75,216.4 L736.25,217 L738.75,217.9 L741.25,218.9 L743.75,219.75 L746.25,221 L748.75,222.25 L751.25,222.5 L753.75,221.9 L756.25,221.4 L758.75,221 L761.25,220.6 L763.75,220.1 L766.25,219.5 L768.75,218.9 L771.25,217.9 L772.8,215.7 L774.5,212 L776,208.6 L777.5,205.8 L779,203.4 L780.75,201 L782.6,198.7 L784.5,196.5 L787,194.3 L789.5,192.6 L792,191.25 L794.5,190.5 L797,189.6 L799.5,188.4 L802,187.5 L804.5,186.75 L807,186.25 L809.5,186 L812,185.9 L814.5,186.25 L817,185.9 L819.5,185.25 L822,184.75 L824.5,184.6 L827,184.9 L829.5,185.25 L832,185.6 L834.5,185.5 L837,185 L839.5,184.6 L842,184.25 L844.5,183.75 L847,183 L849.5,182.1 L852,181.25 L854.5,180.7 L857,180.4 L859.5,180 L862,179.4 L864.5,178.3 L867,176.6 L869.5,175.2 L872,174.2 L874.5,173.5 L877,172.6 L879.5,171.5 L882,170.8 L884.5,170.3 L887,169.8 L889.5,169.3 L892,168.7 L894.5,168 L897,167.4 L899,166.9 L901,166.75 L903.5,167 L906,167.25 L908.5,167.75 L911,168.5 L913.5,169.5 L914.5,170" fill="none" stroke="#e8266e" stroke-width="1.7" stroke-linejoin="round"/>
<text x="24.5" y="41.8" font-family="'Liberation Sans',sans-serif" font-size="20" fill="#111" textLength="474" lengthAdjust="spacingAndGlyphs">Bitcoin: Short-Term Holder Realized Price and MVRV</text>
<g font-family="'Liberation Sans',sans-serif" font-size="8" fill="#3a3a3a">
<circle cx="32.9" cy="69.3" r="2.4" fill="#1a1a1a"/><text x="38.3" y="72.4" textLength="53.8" lengthAdjust="spacingAndGlyphs">BTC: Price [USD]</text>
<circle cx="112.6" cy="69.3" r="2.4" fill="#f0b07a"/><text x="118.3" y="72.4" textLength="68" lengthAdjust="spacingAndGlyphs">MVRV &gt; 1 (In Profit)</text>
<circle cx="201.5" cy="69.3" r="2.4" fill="#ee1f60"/><text x="207" y="72.4" textLength="64.4" lengthAdjust="spacingAndGlyphs">MVRV &lt; 1 (In Loss)</text>
<text x="293.4" y="72.4">-</text>
<circle cx="308.3" cy="69.3" r="2.4" fill="#ee1f60"/><text x="314.4" y="72.4" textLength="120.6" lengthAdjust="spacingAndGlyphs">Short-Term Holder Cost Basis [USD]</text>
</g>
<text x="25" y="550.6" font-family="'Liberation Sans',sans-serif" font-size="13.2" fill="#7d7d7d" textLength="228.5" lengthAdjust="spacingAndGlyphs">© 2025 Glassnode. All Rights Reserved.</text>
<text x="872" y="553.8" textLength="124.8" lengthAdjust="spacing" font-family="'Liberation Sans',sans-serif" font-size="26" fill="#111" stroke="#111" stroke-width="0.5">glassnode</text>
</svg>
</body></html>
